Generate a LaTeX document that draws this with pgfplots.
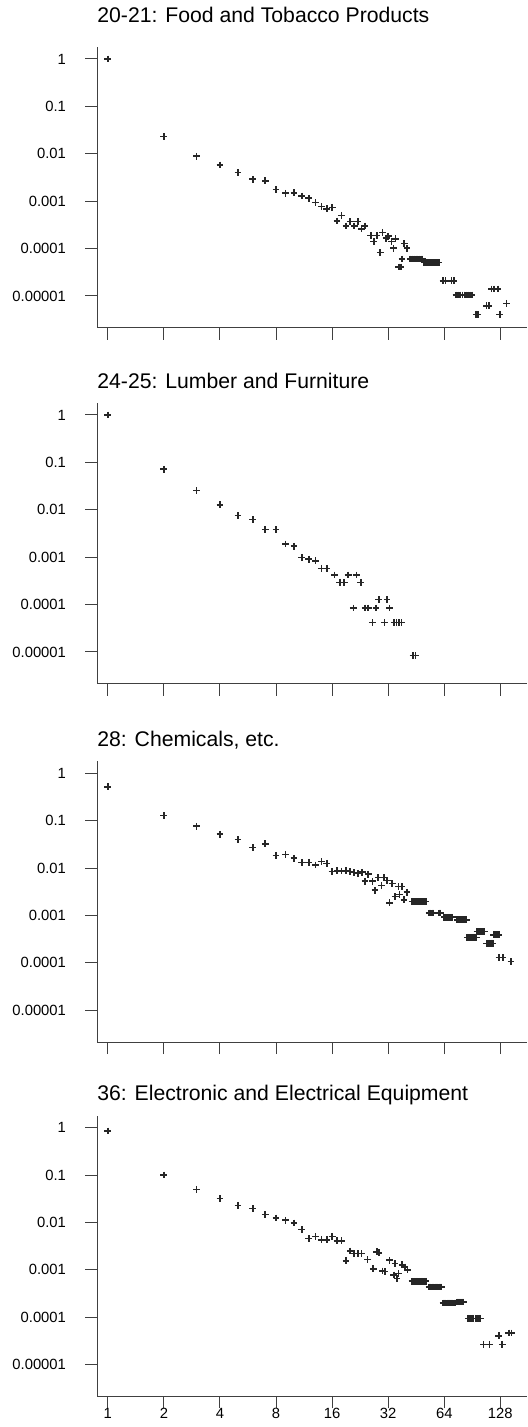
\documentclass[border=0pt]{standalone}
\usepackage{fontspec}
\setmainfont{Liberation Sans}
\usepackage{pgfplots}
\pgfplotsset{compat=1.18}
\pgfplotsset{
  reskframe/.style={
    scale only axis, width=215pt, height=140.35pt, anchor=north west,
    xmin=0.875, xmax=178, ymin=2.14e-6, ymax=1.79,
    axis x line=bottom, axis y line=left,
    axis line style={-, black!75, line width=0.5pt},
    tick align=outside, major tick length=6pt,
    tick style={black!75, line width=0.5pt},
    xtick={1,2,4,8,16,32,64,128},
    ytick={1,0.1,0.01,0.001,0.0001,0.00001},
    yticklabels={1,0.1,0.01,0.001,0.0001,0.00001},
    ticklabel style={font=\fontsize{7.4}{9}\selectfont},
    yticklabel style={xshift=-6pt},
    xticklabel style={yshift=3.5pt},
    title style={at={(0,1)}, anchor=base west, inner sep=0pt, yshift=1.5pt,
      font=\fontsize{10.6}{12}\selectfont},
  },
  reskmarks/.style={only marks, mark=+, mark size=1.7pt, color=black!85,
    mark options={line width=0.8pt}},
}
\begin{document}
\begin{tikzpicture}
\useasboundingbox (0,0) rectangle (263.5pt,-713.5pt);

% 20-21
\begin{axis}[xmode=log, ymode=log, reskframe, at={(48.5pt,-23.5pt)},
  xticklabels={}, title style={yshift=4.5pt},
  title={20-21: Food and Tobacco Products}]
\addplot[reskmarks] coordinates {
(1,1.0) (2,0.023) (3,0.0089) (4,0.0058) (5,0.0040) (6,0.0029) (7,0.0027)
(8,0.00178) (9,0.00147) (10,0.0015) (11,0.00129) (12,0.00115) (13,0.00093)
(14,0.00077) (15,0.00069) (16,0.00074) (17,0.00038) (18,0.00050) (19,0.0003)
(20,0.00037) (21,0.0003) (22,0.00037) (23,0.00026) (24,0.0003)
(25.8,1.87e-4) (26.8,1.4e-4) (27.8,1.87e-4) (29,8.2e-5) (29.9,2.2e-4)
(31.2,1.66e-4) (32,1.82e-4) (33.4,1.4e-4) (34.2,1.02e-4) (35,1.6e-4)
(36.5,4.1e-5) (37.5,4.1e-5) (38,6.0e-5) (39,1.27e-4) (40.4,1.02e-4)
(42,6e-5) (43,6e-5) (44,6e-5) (45,6e-5) (46,6e-5) (47,6e-5) (48,6e-5) (49,6e-5)
(50,5.1e-5) (51,5.1e-5) (52,5.1e-5) (53,5.1e-5) (54,5.1e-5) (55,5.1e-5)
(56,5.1e-5) (57,5.1e-5) (58,5.1e-5) (59,5.1e-5) (60,5.1e-5)
(63,2.08e-5) (65,2.08e-5) (70,2.08e-5) (72,2.08e-5)
(74,1.05e-5) (76,1.05e-5) (78,1.05e-5) (80,1.05e-5) (82,1.05e-5) (84,1.05e-5)
(86,1.05e-5) (88,1.05e-5) (90,1.05e-5)
(95,4.1e-6) (97,4.1e-6) (108,6.2e-6) (111,6.2e-6)
(115,1.4e-5) (118,1.4e-5) (124,1.4e-5) (127,4.1e-6) (138,7.0e-6)
};
\end{axis}

% 24-25
\begin{axis}[xmode=log, ymode=log, reskframe, at={(48.5pt,-201.5pt)},
  xticklabels={},
  title={24-25: Lumber and Furniture}]
\addplot[reskmarks] coordinates {
(1,1.0) (2,0.0716) (3,0.0255) (4,0.0127) (5,0.0076) (6,0.0062) (7,0.0038)
(8,0.0038) (9,0.0019) (10,0.0017) (11,0.00099) (12,0.00091) (13,0.00084)
(14,0.00058) (15,0.00058) (16.5,0.00042) (17.6,0.000295) (18.6,0.000295)
(19.5,0.00042) (20.8,8.5e-5) (21.6,0.00042) (22.8,0.000295)
(24,8.5e-5) (25,8.5e-5) (26.3,4.2e-5) (27.5,8.5e-5) (28.5,1.27e-4)
(30.5,4.2e-5) (31.5,1.27e-4) (32.6,8.5e-5)
(34.4,4.2e-5) (35.5,4.2e-5) (36.6,4.2e-5) (37.7,4.2e-5)
(43.5,8.4e-6) (44.8,8.4e-6)
};
\end{axis}

% 28
\begin{axis}[xmode=log, ymode=log, reskframe, at={(48.5pt,-380.65pt)},
  xticklabels={},
  title={28: Chemicals, etc.}]
\addplot[reskmarks] coordinates {
(1,0.52) (2,0.129) (3,0.0766) (4,0.0519) (5,0.040) (6,0.027) (7,0.0324)
(8,0.0186) (9,0.0192) (10,0.0161) (11,0.0132) (12,0.0132) (13,0.0116)
(14,0.0137) (15,0.0126) (16,0.0084) (17,0.0089) (18,0.0087) (19,0.0089)
(20,0.0085) (21,0.0081) (22,0.0078) (23.2,0.0082) (24,0.0053) (25,0.0074)
(26.3,0.0053) (27.2,0.0034) (28.2,0.0063) (29.5,0.0043) (30.3,0.0063)
(31.6,0.0055) (32.5,0.00185) (33.6,0.0047) (34.9,0.0025) (36.3,0.0041)
(36.8,0.00277) (38,0.0041) (38.9,0.00214) (40.4,0.0031)
(43,0.00197) (44,0.00197) (45,0.00197) (46,0.00197) (47,0.00197)
(48,0.00197) (49,0.00197) (50,0.00197) (51,0.00197)
(53,0.00113) (54,0.00113) (55,0.00113) (56,0.00113) (60,0.00113) (61,0.00113)
(64,9.2e-4) (65,9.2e-4) (66,9.2e-4) (67,9.2e-4) (68,9.2e-4) (69,9.2e-4)
(70,9.2e-4) (71,9.2e-4)
(75,8.1e-4) (76,8.1e-4) (77,8.1e-4) (78,8.1e-4) (79,8.1e-4) (80,8.1e-4)
(81,8.1e-4) (82,8.1e-4) (83,8.1e-4) (84,8.1e-4)
(85,3.46e-4) (86,3.46e-4) (87,3.46e-4) (88,3.46e-4) (89,3.46e-4)
(90,3.46e-4) (91,3.46e-4) (92,3.46e-4) (93,3.46e-4) (94,3.46e-4) (95,3.46e-4)
(96,4.57e-4) (97,4.57e-4) (98,4.57e-4) (99,4.57e-4) (100,4.57e-4)
(101,4.57e-4) (102,4.57e-4) (103,4.57e-4) (104,4.57e-4) (105,4.57e-4)
(108,2.58e-4) (109,2.58e-4) (110,2.58e-4) (111,2.58e-4) (112,2.58e-4)
(113,2.58e-4) (114,2.58e-4) (115,2.58e-4) (116,2.58e-4) (117,2.58e-4)
(118,3.9e-4) (119,3.9e-4) (120,3.9e-4) (121,3.9e-4) (122,3.9e-4)
(123,3.9e-4) (124,3.9e-4) (125,3.9e-4) (126,3.9e-4)
(126,1.3e-4) (132,1.3e-4) (146,1.07e-4)
};
\end{axis}

% 36
\begin{axis}[xmode=log, ymode=log, reskframe, at={(48.5pt,-557.85pt)},
  xticklabels={1,2,4,8,16,32,64,128},
  title={36: Electronic and Electrical Equipment}]
\addplot[reskmarks] coordinates {
(1,0.85) (2,0.1) (3,0.05) (4,0.032) (5,0.023) (6,0.0198) (7,0.0148)
(8,0.0124) (9,0.0112) (10,0.0098) (11,0.0071) (12,0.0046) (13,0.0051)
(14,0.0043) (15,0.0043) (16,0.0051) (17,0.0041) (18,0.0041) (19,0.00155)
(20,0.0025) (21,0.0022) (22,0.0022) (23,0.0022) (24.8,0.00165)
(26.6,0.00105) (27.8,0.0024) (28.6,0.0023) (29.8,0.00095) (30.8,0.00092)
(32.5,0.0016) (34.3,0.00078) (34.8,0.00136) (35.7,0.00066) (36.4,0.00084)
(38,0.00128) (39.4,0.00115) (40.7,0.001)
(43,5.77e-4) (44,5.77e-4) (45,5.77e-4) (46,5.77e-4) (47,5.77e-4)
(48,5.77e-4) (49,5.77e-4) (50,5.77e-4) (51,5.77e-4)
(53,4.37e-4) (54,4.37e-4) (55,4.37e-4) (56,4.37e-4) (57,4.37e-4)
(58,4.37e-4) (59,4.37e-4) (60,4.37e-4) (61,4.37e-4) (62,4.37e-4)
(63,2.0e-4) (64,2.0e-4) (65,2.0e-4) (66,2.0e-4) (67,2.0e-4) (68,2.0e-4)
(69,2.0e-4) (70,2.0e-4) (71,2.0e-4) (72,2.0e-4) (73,2.0e-4)
(75,2.1e-4) (76,2.1e-4) (77,2.1e-4) (78,2.1e-4) (79,2.1e-4) (80,2.1e-4) (81,2.1e-4)
(86,9.5e-5) (88,9.5e-5) (90,9.5e-5) (92,9.5e-5) (94,9.5e-5) (96,9.5e-5)
(98,9.5e-5) (100,9.5e-5)
(104,2.69e-5) (112,2.69e-5) (125.6,4.05e-5) (131,2.69e-5)
(142,4.67e-5) (147,4.67e-5)
};
\end{axis}
\end{tikzpicture}
\end{document}
